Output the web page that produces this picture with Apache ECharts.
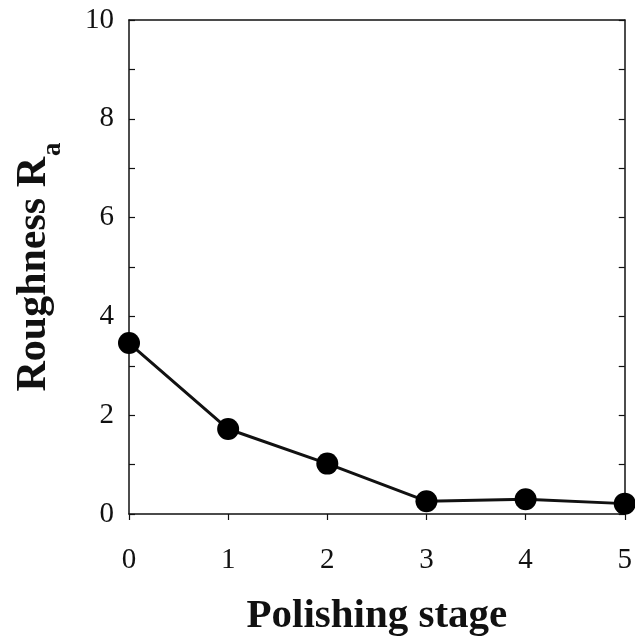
<!DOCTYPE html>
<html>
<head>
<meta charset="utf-8">
<script src="https://cdn.jsdelivr.net/npm/echarts@6/dist/echarts.min.js"></script>
<style>
  html, body { margin: 0; padding: 0; background: #fff; }
  #chart { width: 635px; height: 642px; }
</style>
</head>
<body>
<div id="chart"></div>
<script>
// Surface roughness after each polishing stage
const stages = [0, 1, 2, 3, 4, 5];
const roughness = [3.46, 1.72, 1.02, 0.26, 0.30, 0.21];
const yTicks = [0, 2, 4, 6, 8, 10];
const xTicks = [0, 1, 2, 3, 4, 5];

const chart = echarts.init(document.getElementById('chart'), null, { renderer: 'canvas' });
const serif = '"Liberation Serif", "Times New Roman", serif';
const ink = '#111';

const option = {
  backgroundColor: '#fff',
  animation: false,
  grid: { left: 129, top: 20, right: 8, bottom: 124, containLabel: false },
  xAxis: [
    {
      type: 'value', min: xTicks[0], max: xTicks[xTicks.length - 1], interval: 1,
      position: 'bottom',
      axisLine: { onZero: false, lineStyle: { color: ink, width: 1.5 } },
      axisTick: { show: true, inside: false, length: 6, lineStyle: { color: ink, width: 1.2 } },
      axisLabel: { color: ink, fontFamily: serif, fontSize: 29, margin: 32 },
      splitLine: { show: false },
      name: 'Polishing stage', nameLocation: 'middle', nameGap: 82,
      nameTextStyle: { color: ink, fontFamily: serif, fontSize: 41, fontWeight: 'bold' }
    },
    {
      type: 'value', min: 0, max: 5, position: 'top',
      axisLine: { show: true, onZero: false, lineStyle: { color: ink, width: 1.5 } },
      axisTick: { show: false }, axisLabel: { show: false }, splitLine: { show: false }
    }
  ],
  yAxis: [
    {
      type: 'value', min: yTicks[0], max: yTicks[yTicks.length - 1], interval: 2,
      position: 'left',
      axisLine: { show: true, onZero: false, lineStyle: { color: ink, width: 1.5 } },
      axisTick: { show: true, inside: true, length: 6, lineStyle: { color: ink, width: 1.2 } },
      minorTick: { show: true, splitNumber: 2, length: 6, lineStyle: { color: ink, width: 1.2 } },
      axisLabel: { color: ink, fontFamily: serif, fontSize: 29, margin: 15 },
      splitLine: { show: false },
      name: '{m|Roughness R}{s|a}', nameLocation: 'middle', nameGap: 70, nameRotate: 90,
      nameTextStyle: {
        color: ink, fontFamily: serif, fontSize: 42, fontWeight: 'bold',
        rich: {
          m: { color: ink, fontFamily: serif, fontSize: 42, fontWeight: 'bold', lineHeight: 50, verticalAlign: 'middle' },
          s: { color: ink, fontFamily: serif, fontSize: 27, fontWeight: 'bold', lineHeight: 50, verticalAlign: 'bottom', padding: [0, 0, -8, 1] }
        }
      }
    },
    {
      type: 'value', min: 0, max: 10, interval: 2, position: 'right',
      axisLine: { show: true, onZero: false, lineStyle: { color: ink, width: 1.5 } },
      axisTick: { show: true, inside: true, length: 6, lineStyle: { color: ink, width: 1.2 } },
      minorTick: { show: true, splitNumber: 2, length: 6, lineStyle: { color: ink, width: 1.2 } },
      axisLabel: { show: false }, splitLine: { show: false }
    }
  ],
  series: [
    {
      type: 'line',
      data: stages.map((s, i) => [s, roughness[i]]),
      symbol: 'circle', symbolSize: 22,
      lineStyle: { color: ink, width: 3 },
      itemStyle: { color: '#000' },
      clip: false
    }
  ]
};
chart.setOption(option);
</script>
</body>
</html>
